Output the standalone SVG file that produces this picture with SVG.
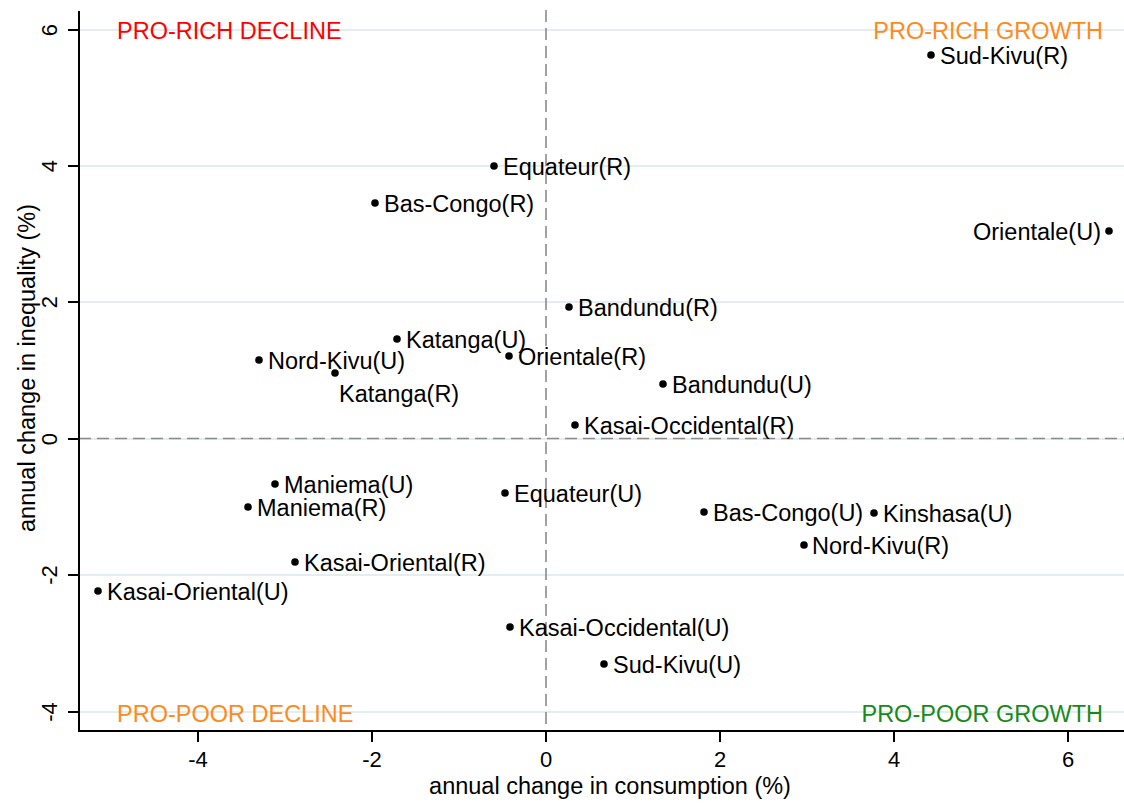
<svg xmlns="http://www.w3.org/2000/svg" width="1124" height="803" viewBox="0 0 1124 803">
<style>
text{font-family:"Liberation Sans",Arial,sans-serif;}
.lbl{font-size:23.5px;fill:#000;}
.tick{font-size:22px;fill:#000;text-anchor:middle;}
.ttl{font-size:23.5px;fill:#000;text-anchor:middle;}
.grid{stroke:#e4edf0;stroke-width:2;}
.ax{stroke:#000;stroke-width:2;fill:none;}
.ref{stroke:#8a8a8a;stroke-width:1.6;stroke-dasharray:12 6;fill:none;}
.dot{fill:#000;}
.q{font-size:23.5px;}
</style>
<rect width="1124" height="803" fill="#fff"/>
<g id="grid">
<line class="grid" x1="79" y1="30" x2="1124" y2="30"/>
<line class="grid" x1="79" y1="166" x2="1124" y2="166"/>
<line class="grid" x1="79" y1="302" x2="1124" y2="302"/>
<line class="grid" x1="79" y1="439" x2="1124" y2="439"/>
<line class="grid" x1="79" y1="575" x2="1124" y2="575"/>
<line class="grid" x1="79" y1="712" x2="1124" y2="712"/>
</g>
<g id="reference-lines">
<line class="ref" x1="546" y1="10" x2="546" y2="731"/>
<line class="ref" x1="79" y1="438.5" x2="1124" y2="438.5"/>
</g>
<g id="axes">
<polyline class="ax" points="79,11 79,731 1124,731"/>
<path class="ax" d="M68 30H79M68 166H79M68 302H79M68 439H79M68 575H79M68 712H79"/>
<path class="ax" d="M198 731V742M372 731V742M546 731V742M720 731V742M894 731V742M1068 731V742"/>
<text class="tick" transform="translate(57,30) rotate(-90)">6</text>
<text class="tick" transform="translate(57,166) rotate(-90)">4</text>
<text class="tick" transform="translate(57,302) rotate(-90)">2</text>
<text class="tick" transform="translate(57,439) rotate(-90)">0</text>
<text class="tick" transform="translate(57,575) rotate(-90)">-2</text>
<text class="tick" transform="translate(57,712) rotate(-90)">-4</text>
<text class="tick" x="198" y="767">-4</text>
<text class="tick" x="372" y="767">-2</text>
<text class="tick" x="546" y="767">0</text>
<text class="tick" x="720" y="767">2</text>
<text class="tick" x="894" y="767">4</text>
<text class="tick" x="1068" y="767">6</text>
<text class="ttl" x="610" y="794">annual change in consumption (%)</text>
<text class="ttl" transform="translate(35,368) rotate(-90)">annual change in inequality (%)</text>
</g>
<g id="quadrant-labels">
<text class="q" x="117" y="39" fill="#ff0000">PRO-RICH DECLINE</text>
<text class="q" x="1103" y="39" fill="#ff8a1c" text-anchor="end">PRO-RICH GROWTH</text>
<text class="q" x="117" y="722" fill="#ff8a1c">PRO-POOR DECLINE</text>
<text class="q" x="1103" y="722" fill="#188a18" text-anchor="end">PRO-POOR GROWTH</text>
</g>
<g id="sud-kivu-r"><circle class="dot" cx="931" cy="55" r="3.8"/><text class="lbl" x="940" y="64">Sud-Kivu(R)</text></g>
<g id="equateur-r"><circle class="dot" cx="494" cy="166" r="3.8"/><text class="lbl" x="503" y="175">Equateur(R)</text></g>
<g id="bas-congo-r"><circle class="dot" cx="375" cy="203" r="3.8"/><text class="lbl" x="384" y="212">Bas-Congo(R)</text></g>
<g id="orientale-u"><circle class="dot" cx="1109" cy="231" r="3.8"/><text class="lbl" x="1101" y="240" text-anchor="end">Orientale(U)</text></g>
<g id="bandundu-r"><circle class="dot" cx="569" cy="307" r="3.8"/><text class="lbl" x="578" y="316">Bandundu(R)</text></g>
<g id="katanga-u"><circle class="dot" cx="397" cy="339" r="3.8"/><text class="lbl" x="406" y="348">Katanga(U)</text></g>
<g id="nord-kivu-u"><circle class="dot" cx="259" cy="360" r="3.8"/><text class="lbl" x="268" y="369">Nord-Kivu(U)</text></g>
<g id="orientale-r"><circle class="dot" cx="509" cy="356" r="3.8"/><text class="lbl" x="518" y="365">Orientale(R)</text></g>
<g id="katanga-r"><circle class="dot" cx="335" cy="373" r="3.8"/><text class="lbl" x="339" y="402">Katanga(R)</text></g>
<g id="bandundu-u"><circle class="dot" cx="663" cy="384" r="3.8"/><text class="lbl" x="672" y="393">Bandundu(U)</text></g>
<g id="kasai-occidental-r"><circle class="dot" cx="575" cy="425" r="3.8"/><text class="lbl" x="584" y="434">Kasai-Occidental(R)</text></g>
<g id="maniema-u"><circle class="dot" cx="275" cy="484" r="3.8"/><text class="lbl" x="284" y="493">Maniema(U)</text></g>
<g id="equateur-u"><circle class="dot" cx="505" cy="493" r="3.8"/><text class="lbl" x="514" y="502">Equateur(U)</text></g>
<g id="maniema-r"><circle class="dot" cx="248" cy="507" r="3.8"/><text class="lbl" x="257" y="516">Maniema(R)</text></g>
<g id="bas-congo-u"><circle class="dot" cx="704" cy="512" r="3.8"/><text class="lbl" x="713" y="521">Bas-Congo(U)</text></g>
<g id="kinshasa-u"><circle class="dot" cx="874" cy="513" r="3.8"/><text class="lbl" x="883" y="522">Kinshasa(U)</text></g>
<g id="nord-kivu-r"><circle class="dot" cx="804" cy="545" r="3.8"/><text class="lbl" x="812" y="554">Nord-Kivu(R)</text></g>
<g id="kasai-oriental-r"><circle class="dot" cx="295" cy="562" r="3.8"/><text class="lbl" x="304" y="571">Kasai-Oriental(R)</text></g>
<g id="kasai-oriental-u"><circle class="dot" cx="98" cy="591" r="3.8"/><text class="lbl" x="107" y="600">Kasai-Oriental(U)</text></g>
<g id="kasai-occidental-u"><circle class="dot" cx="510" cy="627" r="3.8"/><text class="lbl" x="519" y="636">Kasai-Occidental(U)</text></g>
<g id="sud-kivu-u"><circle class="dot" cx="604" cy="664" r="3.8"/><text class="lbl" x="613" y="673">Sud-Kivu(U)</text></g>
</svg>
